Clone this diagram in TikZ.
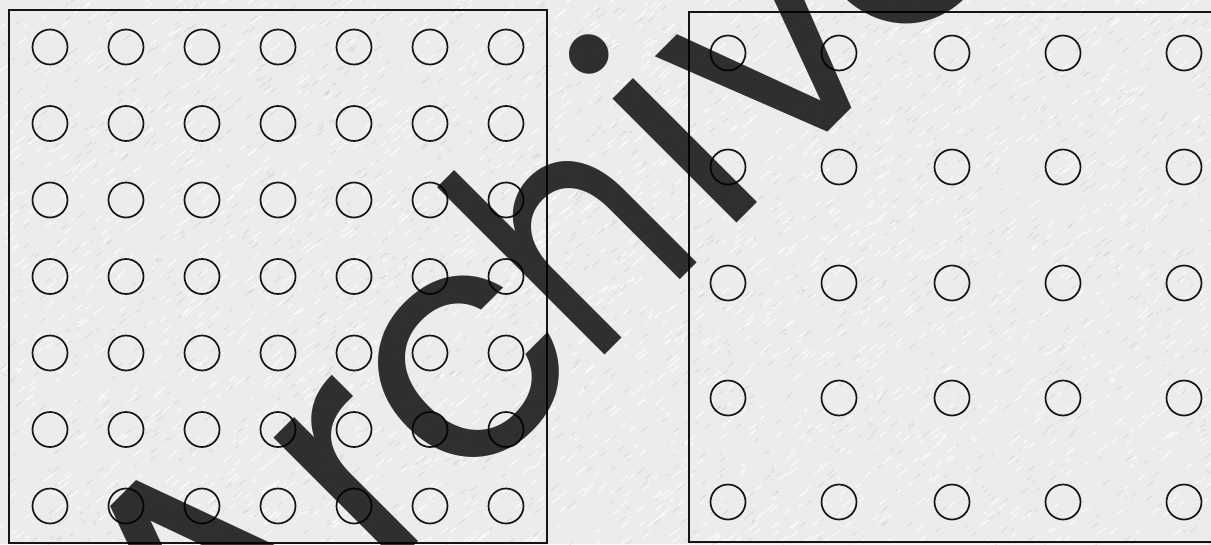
\documentclass[tikz,border=0pt]{standalone}
\usepackage{fontspec}
\newfontfamily\wmfont{Poppins}
\definecolor{paper}{RGB}{236,236,234}
\definecolor{ink}{RGB}{20,20,20}
\begin{document}
\begin{tikzpicture}[x=1pt,y=-1pt,
  frame/.style={draw=ink,line width=1.4pt},
  hole/.style={circle,draw=ink,line width=1.7pt,minimum size=35pt,inner sep=0pt},
  wmark/.style={text=black,text opacity=0.8,font=\wmfont\fontsize{320}{320}\selectfont,
    inner sep=0pt,outer sep=0pt,rotate=45,anchor=base}]
\useasboundingbox (0,0) rectangle (1211,544);
\clip (0,0) rectangle (1211,544);
\fill[paper] (0,0) rectangle (1211,544);
% paper texture
\pgfmathsetseed{7}
\foreach \k in {1,...,2200}{
  \pgfmathsetmacro{\px}{rnd*1215}
  \pgfmathsetmacro{\py}{rnd*548}
  \pgfmathsetmacro{\pl}{3+rnd*7}
  \draw[white,line width=1.1pt,opacity=0.8] (\px,\py) -- ++(\pl,-0.8*\pl);
}
\foreach \k in {1,...,1600}{
  \pgfmathsetmacro{\px}{rnd*1215}
  \pgfmathsetmacro{\py}{rnd*548}
  \pgfmathsetmacro{\pl}{2+rnd*5}
  \draw[black!22,line width=0.7pt,opacity=0.6] (\px,\py) -- ++(\pl,-0.8*\pl);
}
% left panel
\draw[frame] (9,10) rectangle (547,543);
\foreach \i in {0,...,6}{
  \foreach \j in {0,...,6}{
    \node[hole] (L-\i-\j) at ({50+76*\i},{47+76.5*\j}) {};
  }
}
% right panel
\draw[frame] (689,12) rectangle (1240,542);
\foreach \x [count=\i] in {728,839,952,1063,1184}{
  \foreach \y [count=\j] in {53,167,283,398,502}{
    \node[hole] (R-\i-\j) at (\x,\y) {};
  }
}
% watermark, letter by letter along the baseline x+y=960
\node[wmark,font=\wmfont\fontsize{350}{350}\selectfont] (wA) at (295,665) {A};
\node[wmark] (wr) at (423,537) {r};
\node[wmark] (wc) at (529,431) {c};
\node[wmark,xscale=0.83] (wh) at (651,309) {h};
\node[wmark] (wi) at (747,213) {i};
\node[wmark] (wv) at (840,120) {v};
\node[wmark] (we) at (964,-4) {e};
\end{tikzpicture}
\end{document}
